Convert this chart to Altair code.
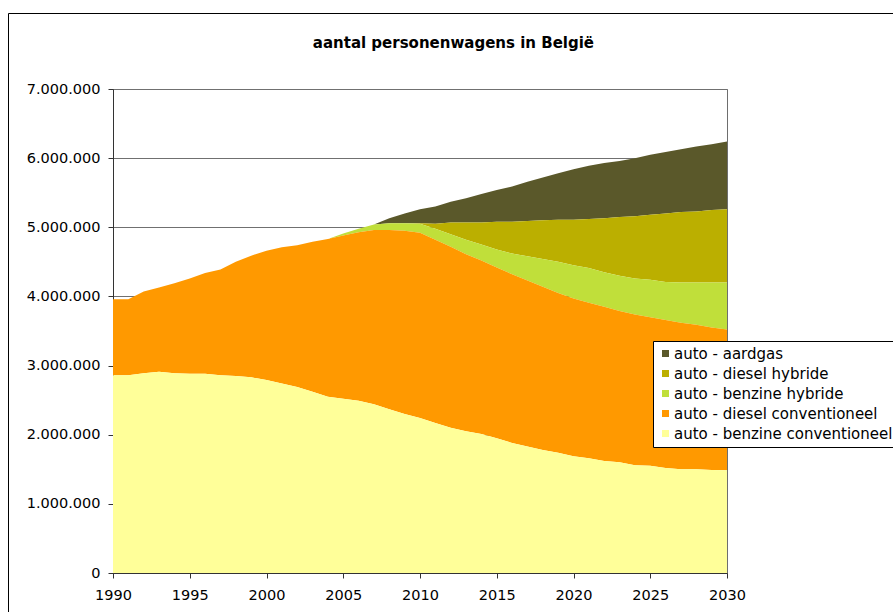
import altair as alt
import pandas as pd

# Aantal personenwagens per brandstoftype (in duizenden), 1990-2030
years = list(range(1990, 2031))

benzine_conventioneel = [
    2860, 2860, 2890, 2910, 2890, 2880, 2880, 2860, 2850, 2830,
    2790, 2740, 2690, 2620, 2550, 2520, 2490, 2440, 2370, 2300,
    2240, 2170, 2100, 2050, 2010, 1950, 1880, 1830, 1780, 1740,
    1690, 1660, 1620, 1600, 1560, 1550, 1520, 1500, 1500, 1490, 1485,
]
diesel_conventioneel = [
    1100, 1100, 1180, 1220, 1300, 1380, 1460, 1530, 1650, 1760,
    1870, 1970, 2050, 2170, 2280, 2360, 2440, 2520, 2590, 2650,
    2680, 2650, 2620, 2560, 2510, 2470, 2440, 2400, 2360, 2310,
    2280, 2250, 2230, 2190, 2180, 2150, 2140, 2120, 2090, 2060, 2035,
]
benzine_hybride = [
    0, 0, 0, 0, 0, 0, 0, 0, 0, 0,
    0, 0, 0, 0, 0, 30, 50, 80, 100, 110,
    130, 160, 180, 210, 230, 260, 300, 350, 400, 450,
    480, 500, 500, 510, 520, 540, 550, 580, 610, 650, 680,
]
diesel_hybride = [
    0, 0, 0, 0, 0, 0, 0, 0, 0, 0,
    0, 0, 0, 0, 0, 0, 0, 0, 0, 0,
    10, 70, 170, 250, 320, 400, 460, 510, 560, 610,
    660, 710, 780, 850, 900, 940, 990, 1020, 1030, 1050, 1060,
]
aardgas = [
    0, 0, 0, 0, 0, 0, 0, 0, 0, 0,
    0, 0, 0, 0, 0, 0, 0, 0, 70, 140,
    200, 250, 300, 350, 410, 460, 510, 570, 620, 670,
    730, 770, 800, 810, 840, 870, 890, 910, 940, 950, 980,
]

# legend order (top to bottom) and fill colours
series_names = [
    "auto - aardgas",
    "auto - diesel hybride",
    "auto - benzine hybride",
    "auto - diesel conventioneel",
    "auto - benzine conventioneel",
]
series_colors = ["#5A582A", "#BBAF00", "#C0DF3A", "#FF9900", "#FFFF99"]
series_values = [aardgas, diesel_hybride, benzine_hybride,
                 diesel_conventioneel, benzine_conventioneel]

x_ticks = [1990, 1995, 2000, 2005, 2010, 2015, 2020, 2025, 2030]
y_ticks = [0, 1000000, 2000000, 3000000, 4000000, 5000000, 6000000, 7000000]

chart_title = "aantal personenwagens in België"

rows = []
for name, vals in zip(series_names, series_values):
    # stacking rank: benzine conventioneel at the bottom
    rank = len(series_names) - 1 - series_names.index(name)
    for y, v in zip(years, vals):
        rows.append({"jaar": y, "aantal": v * 1000, "type": name, "rang": rank})
df = pd.DataFrame(rows)

FONT = "DejaVu Sans"

areas = alt.Chart(df).mark_area(interpolate="linear").encode(
    x=alt.X(
        "jaar:Q",
        scale=alt.Scale(domain=[1990, 2030], nice=False, zero=False),
        axis=alt.Axis(
            values=x_ticks, format="d", title=None, grid=False,
            tickSize=5, labelPadding=10, labelOverlap=False, labelFlush=False,
        ),
    ),
    y=alt.Y(
        "aantal:Q",
        stack="zero",
        scale=alt.Scale(domain=[0, 7000000], nice=False),
        axis=alt.Axis(
            values=y_ticks, title=None, grid=True,
            labelExpr="replace(replace(format(datum.value, ','), ',', '.'), ',', '.')",
            tickSize=5, labelPadding=8,
        ),
    ),
    color=alt.Color(
        "type:N",
        scale=alt.Scale(domain=series_names, range=series_colors),
        legend=alt.Legend(
            title=None, orient="none", legendX=540, legendY=252,
            symbolType="square", symbolSize=49, symbolStrokeWidth=0,
            symbolOpacity=1,
            labelFont=FONT, labelFontSize=15, labelColor="#000000",
            labelLimit=400, labelOffset=1,
            padding=5, rowPadding=4,
            strokeColor="#000000", fillColor="#FFFFFF",
        ),
    ),
    order=alt.Order("rang:Q", sort="ascending"),
)

# outer chart-area frame
frame = alt.Chart(pd.DataFrame({"k": [0]})).mark_rect(
    filled=False, stroke="#000000", strokeWidth=1
).encode(
    x=alt.value(-104.5), x2=alt.value(900),
    y=alt.value(-75.5), y2=alt.value(700),
)

title = alt.Chart(pd.DataFrame({"t": [chart_title]})).mark_text(
    font=FONT, fontSize=15, fontWeight="bold", color="#000000",
    align="center", baseline="alphabetic",
).encode(
    x=alt.value(340.4), y=alt.value(-41.3), text="t:N",
)

chart = alt.layer(areas, frame, title).properties(
    width=614,
    height=484,
    padding={"left": 113, "top": 89, "right": 166, "bottom": 39},
    autosize=alt.AutoSizeParams(type="none"),
    background="#FFFFFF",
).configure(
    font=FONT,
).configure_view(
    stroke="#6E6E6E", strokeWidth=1,
).configure_axis(
    labelFont=FONT, labelFontSize=14.5, labelColor="#000000",
    domainColor="#333333", tickColor="#333333", domainWidth=1,
    gridColor="#707070", gridWidth=1,
)

chart.save("out.html", embed_options={"renderer": "svg", "actions": False})
